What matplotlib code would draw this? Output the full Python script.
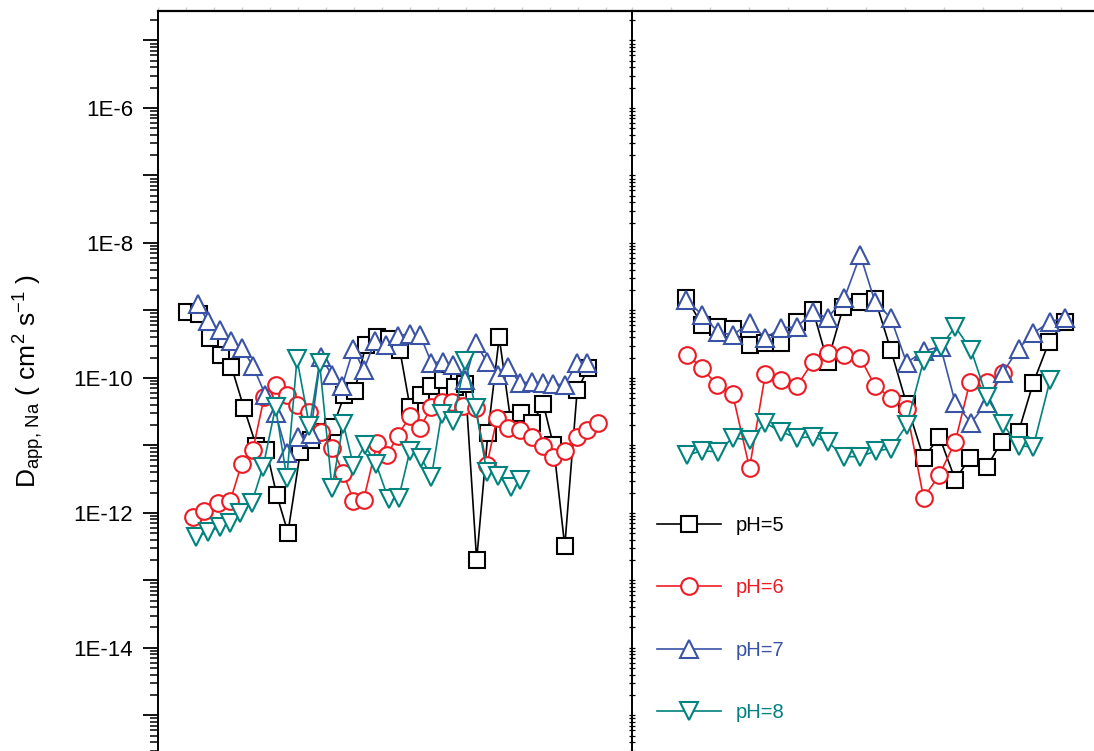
import numpy as np
import matplotlib
matplotlib.use("Agg")
import matplotlib.pyplot as plt
from matplotlib.ticker import FixedLocator, LogLocator, FuncFormatter, MultipleLocator, NullFormatter

plt.rcParams['font.family'] = ['Liberation Sans', 'DejaVu Sans']
plt.rcParams['mathtext.fontset'] = 'custom'
plt.rcParams['mathtext.rm'] = 'Liberation Sans'
plt.rcParams['mathtext.it'] = 'Liberation Sans:italic'

labels = ["pH=5", "pH=6", "pH=7", "pH=8"]
colors = ["black", "#ED1C24", "#3A53A4", "#00827F"]
markers = ["s", "o", "^", "v"]
marker_sizes = [11, 12, 13, 13]

# left panel
left_x_ph5 = [2.6, 3.6, 4.6, 5.6, 6.5, 7.6, 8.7, 9.6, 10.5, 11.5, 12.6, 13.5, 14.5, 15.5, 16.5, 17.4, 18.4,
              19.4, 20.4, 21.4, 22.3, 23.3, 24.2, 25.2, 26.3, 27.2, 28.2, 29.2, 30.2, 31.2, 32.1, 33.1, 34.1,
              35.0, 36.0, 37.1, 38.1]
left_d_ph5 = [9.5e-10, 8.9e-10, 3.9e-10, 2.2e-10, 1.46e-10, 3.6e-11, 9.8e-12, 8.6e-12, 1.85e-12, 5.1e-13,
              8.0e-12, 1.2e-11, 1.58e-11, 1.9e-11, 5.6e-11, 6.4e-11, 3.1e-10, 4.0e-10, 3.8e-10, 2.6e-10,
              3.7e-11, 5.6e-11, 7.6e-11, 9.3e-11, 7.4e-11, 8.1e-11, 2.0e-13, 1.53e-11, 4.0e-10, 2.4e-11,
              3.0e-11, 2.15e-11, 4.1e-11, 1.0e-11, 3.2e-13, 6.6e-11, 1.4e-10]

left_x_ph6 = [3.1, 4.1, 5.3, 6.4, 7.4, 8.4, 9.4, 10.4, 11.4, 12.3, 13.4, 14.4, 15.4, 16.4, 17.3, 18.2, 19.4,
              20.3, 21.2, 22.3, 23.2, 24.2, 25.1, 26.0, 27.0, 28.1, 29.1, 30.0, 31.0, 32.0, 33.1, 34.1, 35.0,
              36.0, 37.1, 38.0, 38.9]
left_d_ph6 = [8.7e-13, 1.07e-12, 1.41e-12, 1.51e-12, 5.3e-12, 8.6e-12, 5.2e-11, 7.9e-11, 5.6e-11, 4.0e-11,
              3.1e-11, 1.58e-11, 9.2e-12, 3.9e-12, 1.51e-12, 1.56e-12, 1.09e-11, 7.2e-12, 1.38e-11, 2.7e-11,
              1.82e-11, 3.7e-11, 4.4e-11, 4.4e-11, 3.85e-11, 3.6e-11, 5.1e-12, 2.5e-11, 1.82e-11, 1.7e-11,
              1.34e-11, 9.8e-12, 6.8e-12, 8.3e-12, 1.34e-11, 1.7e-11, 2.15e-11]

left_x_ph7 = [3.5, 4.4, 5.5, 6.5, 7.4, 8.4, 9.5, 10.4, 11.4, 12.4, 13.5, 14.4, 15.4, 16.3, 17.3, 18.2, 19.2,
              20.2, 21.2, 22.3, 23.2, 24.2, 25.2, 26.1, 27.2, 28.1, 29.1, 30.1, 31.0, 32.0, 33.1, 34.1, 35.0,
              36.0, 37.1, 38.0]
left_d_ph7 = [1.25e-9, 7.0e-10, 5.1e-10, 3.5e-10, 2.8e-10, 1.5e-10, 5.6e-11, 3.0e-11, 7.7e-12, 1.34e-11,
              1.48e-11, 2.05e-10, 1.1e-10, 7.6e-11, 2.7e-10, 1.3e-10, 3.5e-10, 3.1e-10, 4.2e-10, 4.5e-10,
              4.3e-10, 1.67e-10, 1.73e-10, 1.56e-10, 9.3e-11, 3.3e-10, 1.73e-10, 1.1e-10, 1.46e-10, 8.4e-11,
              8.7e-11, 8.4e-11, 8.1e-11, 7.9e-11, 1.67e-10, 1.67e-10]

left_x_ph8 = [3.4, 4.4, 5.5, 6.4, 7.3, 8.3, 9.3, 10.4, 11.4, 12.3, 13.4, 14.3, 15.4, 16.4, 17.3, 18.3, 19.3,
              20.4, 21.3, 22.3, 23.3, 24.2, 25.1, 26.1, 27.2, 28.1, 29.1, 30.1, 31.2, 32.0]
left_d_ph8 = [4.4e-13, 5.2e-13, 6.2e-13, 7.1e-13, 1.0e-12, 1.41e-12, 4.8e-12, 3.7e-11, 3.3e-12, 1.9e-10,
              1.95e-11, 1.67e-10, 2.35e-12, 2.1e-11, 5.0e-12, 1.0e-11, 5.3e-12, 1.6e-12, 1.67e-12, 8.3e-12,
              6.5e-12, 3.4e-12, 2.9e-11, 2.3e-11, 1.8e-10, 3.6e-11, 4.05e-12, 3.5e-12, 2.4e-12, 3.1e-12]

# right panel
right_x_ph5 = [4.8, 6.2, 7.6, 8.9, 10.4, 11.8, 13.2, 14.6, 16.0, 17.3, 18.7, 20.2, 21.5, 22.9, 24.3, 25.8,
               27.2, 28.6, 29.9, 31.4, 32.7, 34.2, 35.5, 36.9, 38.3]
right_d_ph5 = [1.53e-9, 6.1e-10, 5.7e-10, 5.3e-10, 3.1e-10, 3.3e-10, 3.3e-10, 6.8e-10, 1.02e-9, 1.73e-10,
               1.13e-9, 1.34e-9, 1.48e-9, 2.6e-10, 4.1e-11, 6.5e-12, 1.34e-11, 3.1e-12, 6.5e-12, 4.8e-12,
               1.13e-11, 1.58e-11, 8.4e-11, 3.4e-10, 6.8e-10]

right_x_ph6 = [4.9, 6.2, 7.5, 8.9, 10.4, 11.8, 13.2, 14.6, 16.0, 17.3, 18.8, 20.2, 21.5, 22.9, 24.3, 25.8,
               27.2, 28.6, 29.9, 31.4, 32.8]
right_d_ph6 = [2.2e-10, 1.4e-10, 7.9e-11, 5.8e-11, 4.6e-12, 1.15e-10, 9.3e-11, 7.6e-11, 1.73e-10, 2.35e-10,
               2.2e-10, 1.98e-10, 7.6e-11, 5.1e-11, 3.4e-11, 1.67e-12, 3.65e-12, 1.13e-11, 8.7e-11, 8.7e-11,
               1.19e-10]

right_x_ph7 = [4.8, 6.2, 7.6, 8.9, 10.4, 11.8, 13.2, 14.6, 16.0, 17.3, 18.8, 20.2, 21.5, 22.9, 24.3, 25.8,
               27.3, 28.6, 30.0, 31.4, 32.8, 34.2, 35.5, 37.0, 38.3]
right_d_ph7 = [1.43e-9, 8.6e-10, 4.8e-10, 4.3e-10, 6.5e-10, 3.9e-10, 5.5e-10, 5.7e-10, 9.5e-10, 7.7e-10,
               1.53e-9, 6.6e-9, 1.34e-9, 7.7e-10, 1.67e-10, 2.5e-10, 2.9e-10, 4.3e-11, 2.15e-11, 4.3e-11,
               1.19e-10, 2.7e-10, 4.6e-10, 6.8e-10, 7.7e-10]

right_x_ph8 = [4.9, 6.2, 7.6, 8.9, 10.4, 11.8, 13.2, 14.6, 16.0, 17.3, 18.8, 20.2, 21.6, 22.9, 24.3, 25.8,
               27.3, 28.6, 30.0, 31.4, 32.8, 34.2, 35.5, 37.0]
right_d_ph8 = [7.2e-12, 8.3e-12, 8.0e-12, 1.29e-11, 1.2e-11, 2.15e-11, 1.58e-11, 1.29e-11, 1.34e-11, 1.13e-11,
               6.8e-12, 6.8e-12, 8.3e-12, 8.9e-12, 2.0e-11, 1.8e-10, 2.9e-10, 5.7e-10, 2.6e-10, 5.2e-11,
               2.1e-11, 9.8e-12, 9.5e-12, 9.3e-11]

left_series = [(left_x_ph5, left_d_ph5), (left_x_ph6, left_d_ph6), (left_x_ph7, left_d_ph7), (left_x_ph8, left_d_ph8)]
right_series = [(right_x_ph5, right_d_ph5), (right_x_ph6, right_d_ph6), (right_x_ph7, right_d_ph7), (right_x_ph8, right_d_ph8)]

# decades shown on the y axis (every other one gets a label)
decades = [1e-15, 1e-14, 1e-13, 1e-12, 1e-11, 1e-10, 1e-9, 1e-8, 1e-7, 1e-6, 1e-5]


def decade_label(v, pos):
    exp = int(round(np.log10(v)))
    return f"1E{exp}" if exp % 2 == 0 else ""


def draw_series(ax, series):
    for (x, d), lab, col, mk, ms in zip(series, labels, colors, markers, marker_sizes):
        ax.plot(x, d, color=col, lw=1.2, marker=mk, ms=ms, mfc="white", mec=col, mew=1.5, label=lab)


fig = plt.figure(figsize=(10.94, 7.51), dpi=100)
ax1 = fig.add_axes([158 / 1094, 0, 474 / 1094, 740 / 751])
ax2 = fig.add_axes([632 / 1094, 0, 462 / 1094, 740 / 751], sharey=ax1)

draw_series(ax1, left_series)
draw_series(ax2, right_series)

ax1.set_yscale("log")
ax1.set_ylim(10 ** -15.53, 10 ** -4.563)
ax1.set_xlim(0, 41.95)
ax2.set_xlim(0, 40.88)

ax1.yaxis.set_major_locator(FixedLocator(decades))
ax1.yaxis.set_minor_locator(LogLocator(base=10.0, subs=np.arange(2, 10), numticks=30))
ax1.yaxis.set_major_formatter(FuncFormatter(decade_label))
ax1.yaxis.set_minor_formatter(NullFormatter())

for ax in (ax1, ax2):
    ax.spines["bottom"].set_visible(False)
    ax.spines["right"].set_visible(False)
    ax.spines["top"].set_linewidth(1.6)
    ax.spines["left"].set_linewidth(1.4)
    ax.tick_params(axis="x", which="both", bottom=False, top=True, labelbottom=False,
                   direction="out", length=3, width=1, color="#d0d0d0")

ax1.xaxis.set_major_locator(MultipleLocator(2.48))
ax2.xaxis.set_major_locator(MultipleLocator(3.45))

ax1.tick_params(axis="y", which="major", direction="out", length=11, width=1.3, labelsize=16, pad=7)
ax1.tick_params(axis="y", which="minor", direction="out", length=6, width=1.1)
ax2.tick_params(axis="y", which="both", direction="inout", length=4, width=0.9, labelleft=False)

ax1.set_ylabel(r"D$_{\mathrm{app,\,Na}}$ ( cm$^{2}$ s$^{-1}$ )", fontsize=19)
ax1.yaxis.set_label_coords(-0.235, 0.5)

ax2.legend(loc="upper left", bbox_to_anchor=(657 / 1094, 1 - 516 / 751), bbox_transform=fig.transFigure,
           frameon=False, fontsize=14.5, handlelength=3.2, handletextpad=0.7, labelspacing=2.15,
           borderpad=0, borderaxespad=0, labelcolor="linecolor")

fig.savefig("out.png", dpi=100)
